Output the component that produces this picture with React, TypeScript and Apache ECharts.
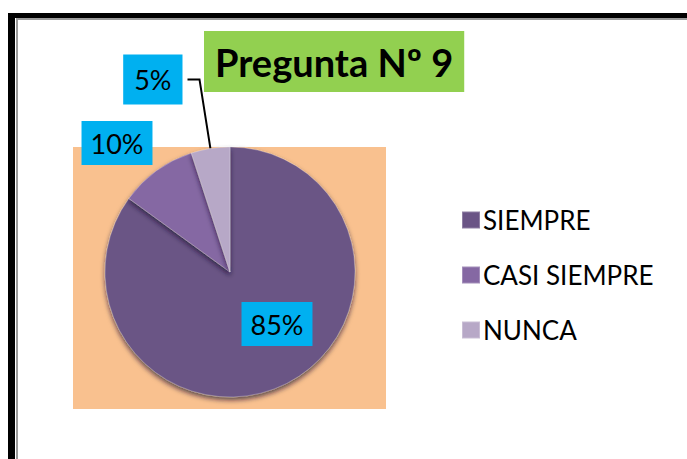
import React, { useEffect, useRef } from "react";
import * as echarts from "echarts";

const titleText = "Pregunta Nº 9";
const categories = ["SIEMPRE", "CASI SIEMPRE", "NUNCA"];
const values = [85, 10, 5];
const colors = ["#6a5485", "#8568a3", "#b7a8c7"];

export default function App() {
  const ref = useRef<HTMLDivElement>(null);
  useEffect(() => {
    if (!ref.current) return;
    const chart = echarts.init(ref.current, null, { renderer: "svg" });
    const font = "Lato, 'Open Sans', sans-serif";
    const labelBase = {
      backgroundColor: "#00b0f0",
      color: "#000",
      fontSize: 27,
      fontFamily: font,
      padding: [9, 9, 8, 9],
      formatter: "{c}%",
    };
    chart.setOption({
      animation: false,
      backgroundColor: "#fff",
      title: {
        text: titleText,
        left: 204,
        top: 31,
        backgroundColor: "#92d050",
        padding: [11, 11, 11, 11],
        textStyle: { fontSize: 38, fontWeight: "bold", color: "#000", fontFamily: font, lineHeight: 39 },
      },
      legend: {
        orient: "vertical",
        left: 456,
        top: 200,
        itemWidth: 18,
        itemHeight: 17,
        itemGap: 25,
        icon: "rect",
        data: categories,
        textStyle: { fontSize: 26, color: "#000", fontFamily: font, lineHeight: 30, padding: [0, 0, 0, -2] },
      },
      graphic: [
        { type: "rect", shape: { x: 73, y: 147, width: 313, height: 262 }, style: { fill: "#f9c18f" }, z: -10 },
        { type: "rect", shape: { x: 8, y: 13, width: 7, height: 446 }, style: { fill: "#000" } },
        { type: "rect", shape: { x: 8, y: 13, width: 679, height: 5 }, style: { fill: "#000" } },
        { type: "rect", shape: { x: 16, y: 18, width: 2, height: 441 }, style: { fill: "#9a9a9a" } },
        { type: "rect", shape: { x: 16, y: 18, width: 671, height: 2 }, style: { fill: "#9a9a9a" } },
      ],
      series: [
        {
          type: "pie",
          center: [230, 272],
          radius: 125,
          startAngle: 90,
          clockwise: true,
          avoidLabelOverlap: false,
          itemStyle: {
            borderColor: "rgba(255,255,255,0.25)",
            borderWidth: 1,
            shadowColor: "rgba(30,15,45,0.7)",
            shadowBlur: 5,
            shadowOffsetY: 3,
          },
          label: { show: true, position: "outside", ...labelBase },
          labelLine: { show: false },
          labelLayout: (p: any) => {
            if (p.dataIndex === 0) return { x: 277, y: 324, align: "center", verticalAlign: "middle" };
            if (p.dataIndex === 1) return { x: 117, y: 143, align: "center", verticalAlign: "middle" };
            return {};
          },
          data: categories.map((name, i) => ({
            name,
            value: values[i],
            itemStyle: { color: colors[i] },
            label: i === 2 ? { padding: [12, 11, 11, 11] } : undefined,
            labelLine:
              i === 2
                ? { show: true, length: 70, length2: 12, lineStyle: { color: "#000", width: 2 } }
                : { show: false },
          })),
        },
      ],
    });
    return () => chart.dispose();
  }, []);
  return <div ref={ref} style={{ position: "fixed", left: 0, top: 0, width: 687, height: 459 }} />;
}
